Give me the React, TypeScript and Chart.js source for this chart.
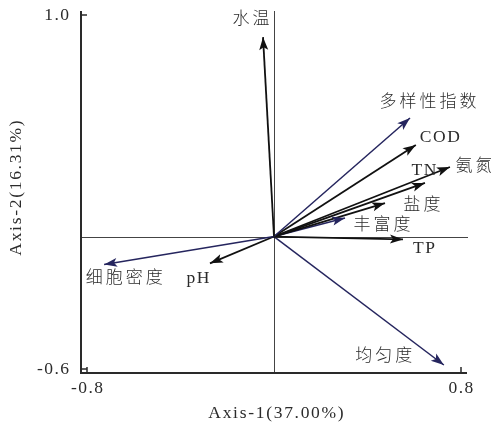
import React, { useEffect, useRef } from 'react';
import { Chart, registerables } from 'chart.js';

Chart.register(...registerables);

// ---- data ----
const variables = ['水温', '多样性指数', 'COD', 'TN', '氨氮', '盐度', '丰富度', 'TP', '均匀度', '细胞密度', 'pH'];
const axis1 = [-0.047, 0.582, 0.607, 0.646, 0.753, 0.475, 0.304, 0.552, 0.727, -0.727, -0.274];
const axis2 = [0.9, 0.535, 0.413, 0.242, 0.314, 0.151, 0.084, -0.013, -0.58, -0.126, -0.121];
const groups = ['env', 'bio', 'env', 'env', 'env', 'env', 'bio', 'env', 'bio', 'bio', 'env'];
const xTicks = [-0.8, 0.8];
const yTicks = [-0.6, 1.0];
const xTitle = 'Axis-1(37.00%)';
const yTitle = 'Axis-2(16.31%)';

// ---- styling ----
const groupColor: Record<string, string> = { env: '#111111', bio: '#25255e' };
const groupWidth: Record<string, number> = { env: 1.8, bio: 1.5 };
const labelOffsets: [number, number][] = [
  [-12, -18], [18, -15], [24, -8], [-1, -13], [24, 0], [37, 2], [37, 8], [21, 9], [-60, -8], [20, 14], [-12, 15],
];
const FONT = '"Liberation Serif", "Times New Roman", "Noto Sans CJK SC", serif';
const TEXT = '#2b2b2b';

const fmt = (v: number) => v.toFixed(1);

function drawSpaced(ctx: CanvasRenderingContext2D, text: string, x: number, y: number, spacing: number) {
  (ctx as any).letterSpacing = spacing + 'px';
  const w = ctx.measureText(text).width - spacing;
  ctx.textAlign = 'left';
  ctx.fillText(text, x - w / 2, y);
}

const rdaPlugin = {
  id: 'rdaPlugin',
  beforeDatasetsDraw(chart: any) {
    const { ctx, chartArea: a, scales } = chart;
    const xs = scales.x, ys = scales.y;
    const x0 = Math.round(xs.getPixelForValue(0)) + 0.5;
    const y0 = Math.round(ys.getPixelForValue(0)) + 0.5;
    ctx.save();
    // cross lines through origin
    ctx.strokeStyle = '#444';
    ctx.lineWidth = 1;
    ctx.beginPath();
    ctx.moveTo(x0, a.top);
    ctx.lineTo(x0, a.bottom);
    ctx.moveTo(a.left, y0);
    ctx.lineTo(a.right + 1, y0);
    ctx.stroke();
    // axes (left + bottom)
    ctx.strokeStyle = '#2a2a2a';
    ctx.lineWidth = 2;
    ctx.beginPath();
    ctx.moveTo(a.left, a.top);
    ctx.lineTo(a.left, a.bottom);
    ctx.lineTo(a.right, a.bottom);
    ctx.stroke();
    // inward ticks
    ctx.lineWidth = 1.5;
    ctx.beginPath();
    xTicks.forEach((t) => {
      const px = Math.round(xs.getPixelForValue(t));
      ctx.moveTo(px, a.bottom);
      ctx.lineTo(px, a.bottom - 6);
    });
    yTicks.forEach((t) => {
      const py = Math.round(ys.getPixelForValue(t));
      ctx.moveTo(a.left, py);
      ctx.lineTo(a.left + 6, py);
    });
    ctx.stroke();
    // tick labels
    ctx.fillStyle = TEXT;
    ctx.font = `17.5px ${FONT}`;
    ctx.textBaseline = 'middle';
    xTicks.forEach((t) => {
      drawSpaced(ctx, fmt(t), xs.getPixelForValue(t), a.bottom + 15, 1.4);
    });
    yTicks.forEach((t) => {
      (ctx as any).letterSpacing = '1.4px';
      const w = ctx.measureText(fmt(t)).width - 1.4;
      ctx.textAlign = 'left';
      ctx.fillText(fmt(t), a.left - 12 - w, ys.getPixelForValue(t));
    });
    // axis titles
    drawSpaced(ctx, xTitle, (a.left + a.right) / 2 + 2, a.bottom + 40, 1.7);
    ctx.save();
    ctx.translate(16, (a.top + a.bottom) / 2 - 4);
    ctx.rotate(-Math.PI / 2);
    drawSpaced(ctx, yTitle, 0, 0, 1.7);
    ctx.restore();
    (ctx as any).letterSpacing = '0px';
    ctx.restore();
  },
  afterDatasetsDraw(chart: any) {
    const { ctx, scales } = chart;
    const xs = scales.x, ys = scales.y;
    const ox = xs.getPixelForValue(0), oy = ys.getPixelForValue(0);
    ctx.save();
    variables.forEach((name, i) => {
      const tx = xs.getPixelForValue(axis1[i]);
      const ty = ys.getPixelForValue(axis2[i]);
      const ang = Math.atan2(ty - oy, tx - ox);
      const color = groupColor[groups[i]];
      // arrowhead
      const L = 13, W = 4.5, N = 3;
      ctx.save();
      ctx.translate(tx, ty);
      ctx.rotate(ang);
      ctx.fillStyle = color;
      ctx.beginPath();
      ctx.moveTo(0, 0);
      ctx.lineTo(-L, -W);
      ctx.lineTo(-L + N, 0);
      ctx.lineTo(-L, W);
      ctx.closePath();
      ctx.fill();
      ctx.restore();
      // label
      const [dx, dy] = labelOffsets[i];
      const isCJK = /[\u4e00-\u9fff]/.test(name);
      ctx.fillStyle = TEXT;
      ctx.textBaseline = 'middle';
      ctx.font = isCJK ? `300 17px ${FONT}` : `17.5px ${FONT}`;
      drawSpaced(ctx, name, tx + dx, ty + dy, isCJK ? 3 : 1.5);
    });
    (ctx as any).letterSpacing = '0px';
    ctx.restore();
  },
};

export default function App() {
  const ref = useRef<HTMLCanvasElement>(null);
  useEffect(() => {
    if (!ref.current) return;
    const datasets = variables.map((name, i) => ({
      label: name,
      data: [
        { x: 0, y: 0 },
        { x: axis1[i], y: axis2[i] },
      ],
      showLine: true,
      borderColor: groupColor[groups[i]],
      backgroundColor: groupColor[groups[i]],
      borderWidth: groupWidth[groups[i]],
      pointRadius: 0,
      pointHoverRadius: 0,
      clip: false as any,
    }));
    const chart = new Chart(ref.current, {
      type: 'scatter',
      data: { datasets },
      options: {
        animation: false,
        responsive: false,
        events: [],
        layout: { padding: { left: 81, right: 24, top: 11, bottom: 50 } },
        plugins: { legend: { display: false }, tooltip: { enabled: false } },
        scales: {
          x: { type: 'linear', min: -0.826, max: 0.826, display: false },
          y: { type: 'linear', min: -0.616, max: 1.018, display: false },
        },
      },
      plugins: [rdaPlugin],
    });
    return () => chart.destroy();
  }, []);
  return (
    <div style={{ position: 'fixed', left: 0, top: 0, width: 491, height: 423, background: '#fff' }}>
      <canvas ref={ref} width={491} height={423} style={{ width: 491, height: 423, display: 'block' }} />
    </div>
  );
}
